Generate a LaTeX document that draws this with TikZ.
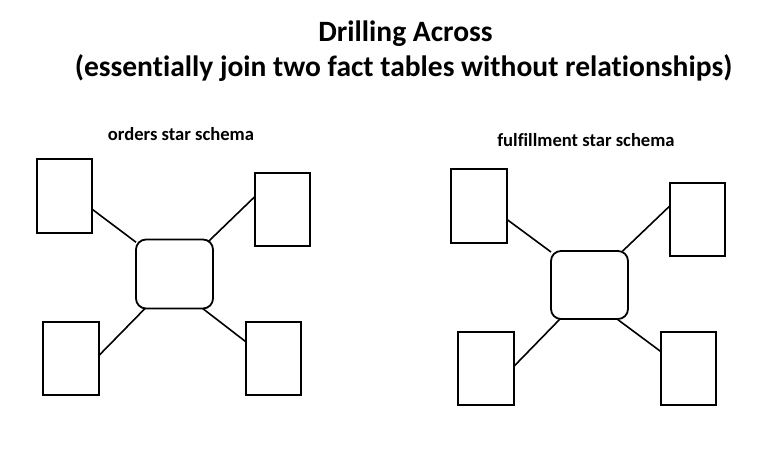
\documentclass[tikz,border=0pt]{standalone}
\usepackage{fontspec}
\setmainfont[Ligatures=NoCommon]{Carlito}
\usetikzlibrary{calc}
\tikzset{
  dimbox/.style={draw=black, line width=1.8pt, fill=white, inner sep=0pt, outer sep=0pt, minimum width=55.5pt, minimum height=73.5pt},
  factbox/.style={draw=black, line width=1.8pt, fill=white, rounded corners=10pt, inner sep=0pt, outer sep=0pt, minimum width=77pt, minimum height=69pt},
  link/.style={draw=black, line width=1.6pt},
  titletext/.style={anchor=base, inner sep=0pt, font=\fontsize{29.5}{35}\selectfont\bfseries},
  labeltext/.style={anchor=base, inner sep=0pt, font=\fontsize{18.6}{22}\selectfont\bfseries}
}
\begin{document}
\begin{tikzpicture}[x=1pt, y=-1pt]
\useasboundingbox (0,0) rectangle (779,458);
\fill[white] (0,0) rectangle (779,458);

\node[titletext] (title) at (405.5,41.7) {Drilling Across};
\node[titletext] (subtitle) at (403.5,76) {(essentially join two fact tables without relationships)};

\node[labeltext] (lab1) at (181,140) {orders star schema};
\node[labeltext] (lab2) at (586,146) {fulfillment star schema};

% left schema
\node[dimbox] (tl1) at (64.5,196) {};
\node[dimbox] (tr1) at (282.5,209.5) {};
\node[factbox] (c1) at (174.5,274) {};
\node[dimbox] (bl1) at (71,358.5) {};
\node[dimbox] (br1) at (273.5,358.5) {};

\draw[link] ($(tl1.east)+(0,13.3)$) -- ($(c1.north west)+(0,2.7)$);
\draw[link] ($(c1.north east)+(-4.3,1.7)$) -- ($(tr1.west)+(0,-12.8)$);
\draw[link] ($(c1.south west)+(9,0)$) -- ($(bl1.east)+(0,-2.8)$);
\draw[link] ($(c1.south east)+(-10.3,0)$) -- ($(br1.west)+(0,-16.8)$);

% right schema
\node[dimbox] (tl2) at (479,206) {};
\node[dimbox] (tr2) at (697.5,219.5) {};
\node[factbox, minimum height=68pt] (c2) at (589.5,285) {};
\node[dimbox] (bl2) at (486,368.5) {};
\node[dimbox] (br2) at (688.5,368.5) {};

\draw[link] ($(tl2.east)+(0,13.3)$) -- ($(c2.north west)+(0,1)$);
\draw[link] ($(c2.north east)+(-5.3,0)$) -- ($(tr2.west)+(0,-13.5)$);
\draw[link] ($(c2.south west)+(9,0)$) -- ($(bl2.east)+(0,-2)$);
\draw[link] ($(c2.south east)+(-11,0)$) -- ($(br2.west)+(0,-17)$);
\end{tikzpicture}
\end{document}
